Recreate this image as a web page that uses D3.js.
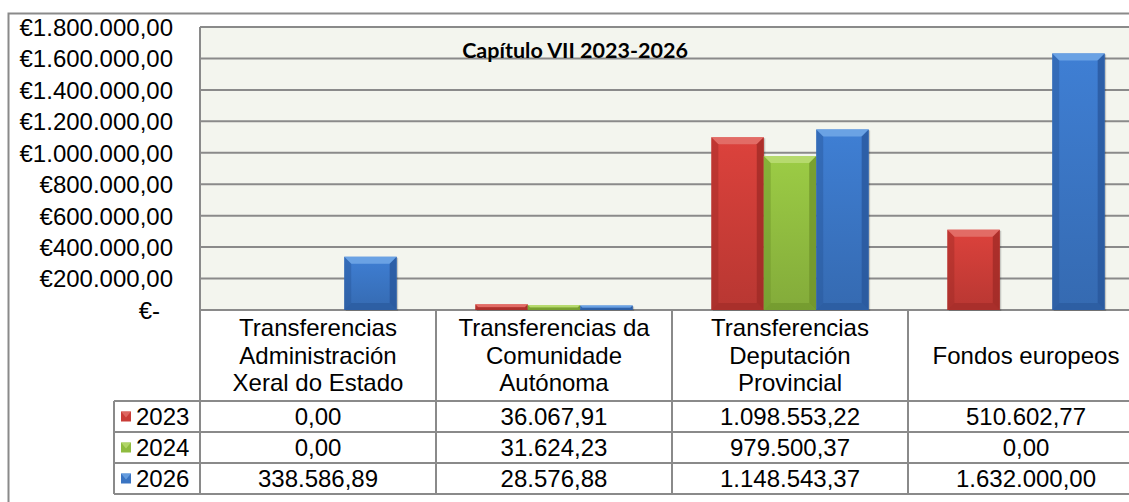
<!DOCTYPE html>
<html lang="es">
<head>
<meta charset="utf-8">
<title>Capítulo VII 2023-2026</title>
<script src="https://cdn.jsdelivr.net/npm/d3@7"></script>
<style>
  body { margin: 0; background: #fff; }
  svg { display: block; font-family: "Liberation Sans", Arial, sans-serif; }
</style>
</head>
<body>
<svg id="chart" width="1129" height="502"></svg>
<script>
// chart data
var categories = [
  ["Transferencias", "Administración", "Xeral do Estado"],
  ["Transferencias da", "Comunidade", "Autónoma"],
  ["Transferencias", "Deputación", "Provincial"],
  ["Fondos europeos"]
];
var seriesNames = ["2023", "2024", "2026"];
var values2023 = [0, 36067.91, 1098553.22, 510602.77];
var values2024 = [0, 31624.23, 979500.37, 0];
var values2026 = [338586.89, 28576.88, 1148543.37, 1632000.00];
var yTicks = [0, 200000, 400000, 600000, 800000, 1000000, 1200000, 1400000, 1600000, 1800000];
var chartTitle = "Capítulo VII 2023-2026";

var seriesValues = [values2023, values2024, values2026];
var colors = [
  { base: "#c93c37", light: "#e2716a", dark: "#9e2a26" },
  { base: "#8fbb3f", light: "#b9dc72", dark: "#6d922a" },
  { base: "#3a74c2", light: "#6fa6e6", dark: "#28569a" }
];

var svg = d3.select("#chart");
var gridColor = "#8a8a8a";

var plotLeft = 200, plotRight = 1144, plotTop = 27, plotBottom = 310;
var headerH = 91, rowH = 31, tableLeft = 114;

var es = d3.formatLocale({ decimal: ",", thousands: ".", grouping: [3], currency: ["€", ""] });
var fmtNum = es.format(",.2f");
function fmtAxis(v) { return v === 0 ? "€-" : "€" + fmtNum(v); }

var y = d3.scaleLinear().domain([0, 1800000]).range([plotBottom, plotTop]);
var x0 = d3.scaleBand().domain(d3.range(categories.length)).range([plotLeft, plotRight]).padding(0);
var x1 = d3.scaleBand().domain(seriesNames).range([0, x0.bandwidth()]).paddingInner(0).paddingOuter(0.75);

// outer border
svg.append("rect")
  .attr("x", 8.5).attr("y", 13.5)
  .attr("width", 1140).attr("height", 520)
  .attr("fill", "#fff").attr("stroke", gridColor).attr("stroke-width", 2);

// plot background
svg.append("rect")
  .attr("x", plotLeft).attr("y", plotTop)
  .attr("width", plotRight - plotLeft).attr("height", plotBottom - plotTop)
  .attr("fill", "#f3f5ee");

// gridlines + axis labels
var yAxis = d3.axisLeft(y).tickValues(yTicks).tickSize(0).tickFormat(fmtAxis);
var axisG = svg.append("g").attr("transform", "translate(" + plotLeft + ",0)").call(yAxis);
axisG.select(".domain").remove();
axisG.selectAll("text")
  .attr("x", function(d) { return d === 0 ? -40 : -27; })
  .attr("dy", "0.35em")
  .style("font-size", "24px")
  .style("font-family", "'Liberation Sans', Arial, sans-serif")
  .attr("fill", "#000");

svg.append("g").selectAll("line")
  .data(yTicks)
  .join("line")
  .attr("x1", plotLeft).attr("x2", plotRight)
  .attr("y1", function(d) { return y(d); }).attr("y2", function(d) { return y(d); })
  .attr("stroke", gridColor).attr("stroke-width", 2);

var tableBottom = plotBottom + headerH + seriesNames.length * rowH;

svg.append("line")
  .attr("x1", plotLeft).attr("x2", plotLeft)
  .attr("y1", plotTop).attr("y2", tableBottom)
  .attr("stroke", gridColor).attr("stroke-width", 2);

// title
svg.append("text")
  .attr("x", 575).attr("y", 58)
  .attr("text-anchor", "middle")
  .style("font-family", "Lato, 'Open Sans', sans-serif")
  .style("font-weight", "bold")
  .style("font-size", "21.5px")
  .text(chartTitle);

// gradients for bars
var defs = svg.append("defs");
colors.forEach(function(c, i) {
  var g = defs.append("linearGradient").attr("id", "grad" + i)
    .attr("x1", 0).attr("y1", 0).attr("x2", 0).attr("y2", 1);
  g.append("stop").attr("offset", "0%").attr("stop-color", d3.color(c.base).brighter(0.25));
  g.append("stop").attr("offset", "100%").attr("stop-color", d3.color(c.base).darker(0.25));
});

// bars with bevel
var bars = [];
seriesValues.forEach(function(vals, si) {
  vals.forEach(function(v, ci) {
    if (v > 0) bars.push({ s: si, c: ci, v: v });
  });
});

var barG = svg.append("g");
bars.forEach(function(d) {
  var bx = x0(d.c) + x1(seriesNames[d.s]);
  var bw = x1.bandwidth();
  var by = y(d.v);
  var bh = plotBottom - by;
  var b = Math.min(7, bh / 2, bw / 2);
  var c = colors[d.s];
  var g = barG.append("g");
  g.append("rect").attr("x", bx + 1.5).attr("y", by + 1).attr("width", bw).attr("height", bh)
    .attr("fill", "rgba(0,0,0,0.18)");
  g.append("rect").attr("x", bx).attr("y", by).attr("width", bw).attr("height", bh)
    .attr("fill", "url(#grad" + d.s + ")");
  function poly(pts, fill, op) {
    g.append("polygon").attr("points", pts.map(function(p) { return p.join(","); }).join(" "))
      .attr("fill", fill).attr("opacity", op);
  }
  poly([[bx, by], [bx + bw, by], [bx + bw - b, by + b], [bx + b, by + b]], c.light, 0.9);
  poly([[bx, by], [bx + b, by + b], [bx + b, by + bh - b], [bx, by + bh]], c.dark, 0.45);
  poly([[bx + bw, by], [bx + bw, by + bh], [bx + bw - b, by + bh - b], [bx + bw - b, by + b]], c.dark, 0.75);
  poly([[bx, by + bh], [bx + b, by + bh - b], [bx + bw - b, by + bh - b], [bx + bw, by + bh]], c.dark, 0.6);
});

// data table
var table = svg.append("g").style("font-size", "24px").attr("fill", "#000");
var headerBottom = plotBottom + headerH;

// header labels
categories.forEach(function(lines, ci) {
  var cx = x0(ci) + x0.bandwidth() / 2;
  var lh = 27.5;
  var midY = plotBottom + headerH / 2;
  var start = midY - (lines.length - 1) * lh / 2;
  lines.forEach(function(t, li) {
    table.append("text").attr("x", cx).attr("y", start + li * lh)
      .attr("dy", "0.35em").attr("text-anchor", "middle").text(t);
  });
});

// grid lines of table
var hLines = d3.range(seriesNames.length + 1).map(function(i) { return headerBottom + i * rowH; });
table.selectAll("line.h").data(hLines).join("line")
  .attr("x1", tableLeft).attr("x2", plotRight)
  .attr("y1", function(d) { return d; }).attr("y2", function(d) { return d; })
  .attr("stroke", gridColor).attr("stroke-width", 2);
table.selectAll("line.v").data(d3.range(1, categories.length)).join("line")
  .attr("x1", function(d) { return x0(d); }).attr("x2", function(d) { return x0(d); })
  .attr("y1", plotBottom).attr("y2", tableBottom)
  .attr("stroke", gridColor).attr("stroke-width", 2);
table.append("line")
  .attr("x1", tableLeft).attr("x2", tableLeft)
  .attr("y1", headerBottom).attr("y2", tableBottom)
  .attr("stroke", gridColor).attr("stroke-width", 2);

// legend keys + values
seriesNames.forEach(function(name, si) {
  var cy = headerBottom + si * rowH + rowH / 2;
  var c = colors[si];
  var kx = 121, ks = 10;
  table.append("rect").attr("x", kx).attr("y", cy - ks / 2).attr("width", ks).attr("height", ks)
    .attr("fill", c.base);
  table.append("polygon")
    .attr("points", [[kx, cy - ks / 2], [kx + ks, cy - ks / 2], [kx + ks / 2, cy + 1]].map(function(p) { return p.join(","); }).join(" "))
    .attr("fill", c.light).attr("opacity", 0.8);
  table.append("text").attr("x", 136).attr("y", cy).attr("dy", "0.35em").text(name);
  seriesValues[si].forEach(function(v, ci) {
    table.append("text")
      .attr("x", x0(ci) + x0.bandwidth() / 2).attr("y", cy).attr("dy", "0.35em")
      .attr("text-anchor", "middle").text(fmtNum(v));
  });
});
</script>
</body>
</html>
